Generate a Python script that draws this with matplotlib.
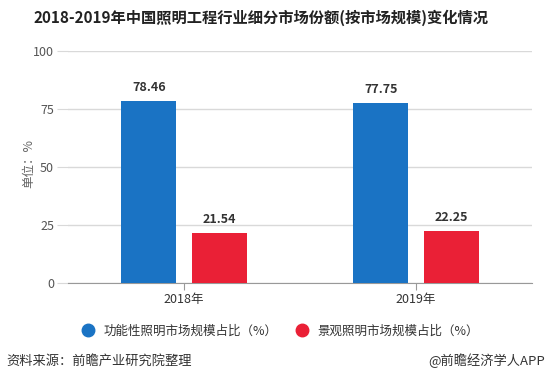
import numpy as np
import matplotlib.pyplot as plt
from matplotlib.lines import Line2D

plt.rcParams['font.family'] = ['Noto Sans CJK SC', 'DejaVu Sans']

years = ['2018年', '2019年']
functional = [78.46, 77.75]
landscape = [21.54, 22.25]
series_names = ['功能性照明市场规模占比（%）', '景观照明市场规模占比（%）']
colors = ['#1a73c4', '#ea2036']

fig = plt.figure(figsize=(5.49, 3.82), dpi=100)
ax = fig.add_axes([68 / 549, 1 - 283 / 382, 464 / 549, 232 / 382])

x = np.arange(len(years))
w = 0.237
off = 0.151
b1 = ax.bar(x - off, functional, w, color=colors[0], zorder=3)
b2 = ax.bar(x + off, landscape, w, color=colors[1], zorder=3)

for bars, vals in ((b1, functional), (b2, landscape)):
    for rect, v in zip(bars, vals):
        ax.text(rect.get_x() + rect.get_width() / 2, v + 3, f'{v:.2f}',
                ha='center', va='bottom', fontsize=9, fontweight='bold',
                color='#333333')

ax.set_xlim(-0.5, 1.5)
ax.set_ylim(0, 100)
ax.set_yticks([0, 25, 50, 75, 100])
ax.set_xticks(x)
ax.set_xticklabels(years)
ax.grid(axis='y', color='#d9d9d9', linewidth=1, zorder=0)
for s in ('top', 'right', 'left'):
    ax.spines[s].set_visible(False)
ax.spines['bottom'].set_color('#999999')
ax.tick_params(axis='y', length=8, color='#d9d9d9', labelsize=9,
               labelcolor='#555555', pad=2)
ax.tick_params(axis='x', length=5, color='#999999', labelsize=9,
               labelcolor='#333333', pad=2)
ax.set_ylabel('单位：%', fontsize=9, color='#666666')
ax.yaxis.set_label_coords((35 - 68) / 464, (283 - 163) / 232)

fig.text(261 / 549, 1 - 18 / 382, '2018-2019年中国照明工程行业细分市场份额(按市场规模)变化情况',
         ha='center', va='center', fontsize=11, fontweight='bold', color='#222222')

handles = [Line2D([], [], marker='o', linestyle='', markersize=9, color=c)
           for c in colors]
fig.legend(handles, series_names, loc='center', bbox_to_anchor=(0.505, 1 - 331 / 382),
           ncol=2, frameon=False, fontsize=9, handletextpad=0.3,
           columnspacing=0.9, labelcolor='#333333')

fig.text(6 / 549, 1 - 361 / 382, '资料来源：前瞻产业研究院整理',
         ha='left', va='center', fontsize=9.5, color='#333333')
fig.text(545 / 549, 1 - 361 / 382, '@前瞻经济学人APP',
         ha='right', va='center', fontsize=9.5, color='#333333')

fig.savefig('out.png', dpi=100)
